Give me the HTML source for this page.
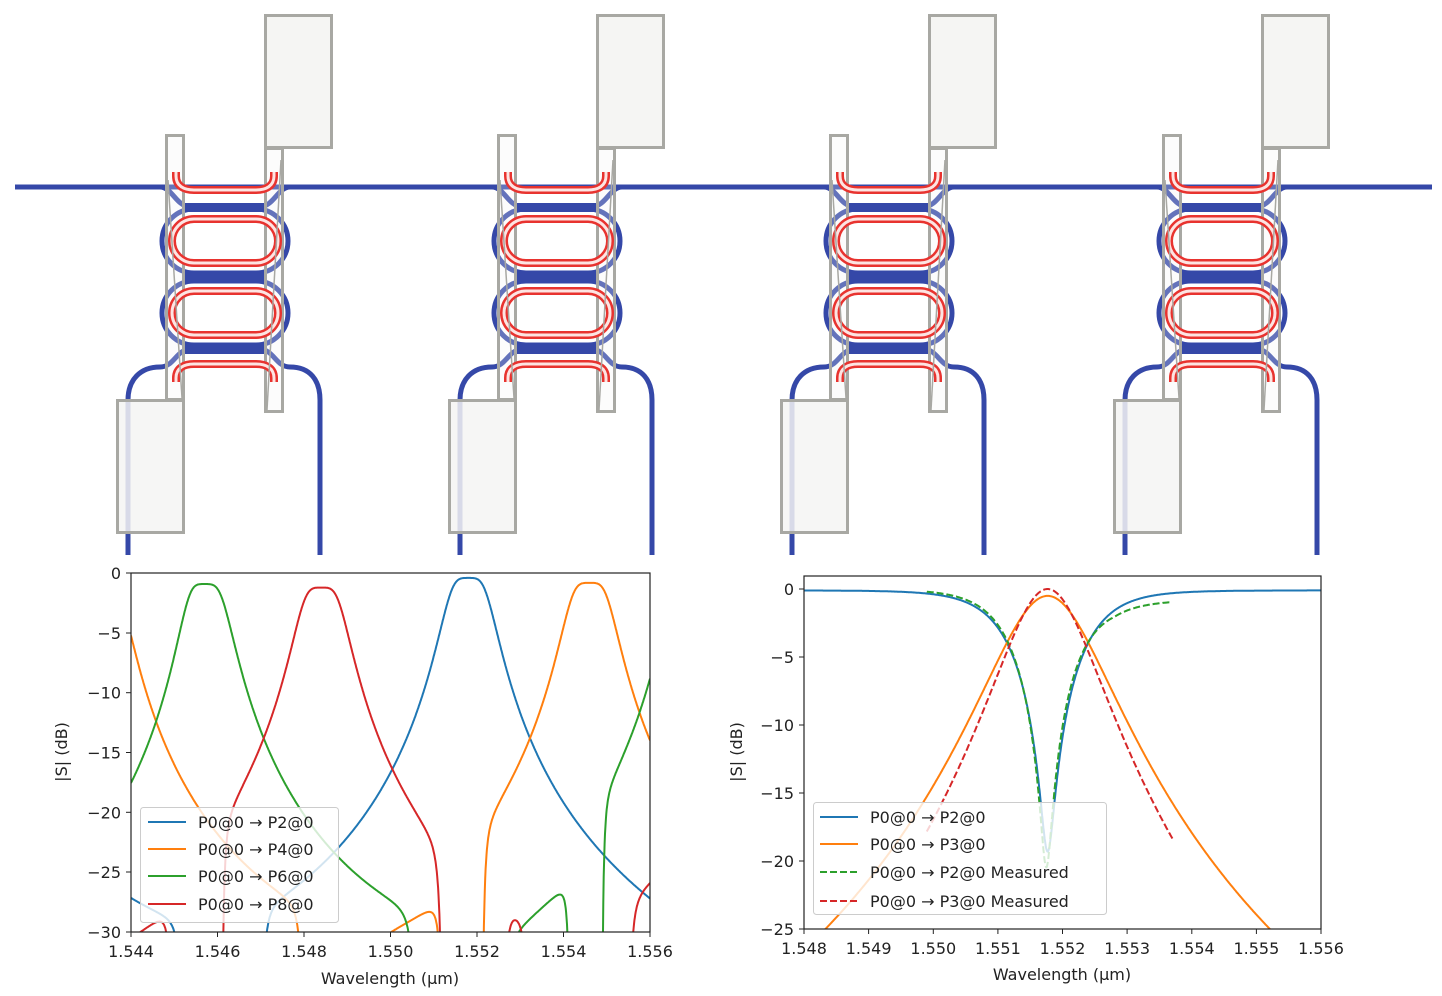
<!DOCTYPE html>
<html><head><meta charset="utf-8"><style>
html,body{margin:0;padding:0;background:#fff;}
svg{display:block;font-family:"DejaVu Sans","Liberation Sans",sans-serif;}
.t{font-size:16px;fill:#222;}
</style></head><body>
<svg id="s" width="1442" height="996" viewBox="0 0 1442 996" xmlns="http://www.w3.org/2000/svg">
<defs>
<g id="unit">
  <rect x="162" y="209" width="126" height="64" rx="32" fill="none" stroke="#3548a8" stroke-width="5"/>
  <rect x="162" y="281" width="126" height="64" rx="32" fill="none" stroke="#3548a8" stroke-width="5"/>
  <rect x="183" y="203" width="84" height="9" fill="#3548a8"/>
  <rect x="183" y="272" width="84" height="10" fill="#3548a8"/>
  <rect x="183" y="344" width="84" height="10" fill="#3548a8"/>
  <path d="M160 187 C172 187 176 206 190 207 M260 207 C274 206 278 187 290 187" fill="none" stroke="#3548a8" stroke-width="5"/>
  <path d="M190 349 C176 350 174 367 160 367 C140 367 128 380 128 400 L128 555" fill="none" stroke="#3548a8" stroke-width="5"/>
  <path d="M260 349 C274 350 276 367 290 367 C310 367 320 380 320 400 L320 555" fill="none" stroke="#3548a8" stroke-width="5"/>
  <g stroke="#a8a8a3" stroke-width="3">
    <rect x="166.5" y="135.5" width="17" height="264" fill="#f4f4f2" fill-opacity="0.25"/>
    <rect x="265.5" y="148.5" width="17" height="263" fill="#f4f4f2" fill-opacity="0.25"/>
    <rect x="265.5" y="15.5" width="66" height="132" fill="#f5f5f3"/>
    <rect x="117.5" y="400.5" width="66" height="132" fill="#f5f5f3" fill-opacity="0.85"/>
  </g>
  <g fill="none" stroke-linecap="butt">
    <g stroke="#e8332f" stroke-width="8">
      <path d="M176 172 L176 176 C176 186 184 190 194 190 L256 190 C266 190 274 186 274 176 L274 172"/>
      <rect x="172" y="219" width="106" height="44" rx="22"/>
      <rect x="172" y="291" width="106" height="44" rx="22"/>
      <path d="M176 382 L176 378 C176 368 184 364 194 364 L256 364 C266 364 274 368 274 378 L274 382"/>
    </g>
    <g stroke="#fde4e2" stroke-width="3">
      <path d="M176 172 L176 176 C176 186 184 190 194 190 L256 190 C266 190 274 186 274 176 L274 172"/>
      <rect x="172" y="219" width="106" height="44" rx="22"/>
      <rect x="172" y="291" width="106" height="44" rx="22"/>
      <path d="M176 382 L176 378 C176 368 184 364 194 364 L256 364 C266 364 274 368 274 378 L274 382"/>
    </g>
  </g>
  <g stroke="#a8a8a3" stroke-width="1.5" fill="none">
    <line x1="168" y1="180" x2="182" y2="398"/>
    <line x1="281" y1="160" x2="267" y2="410"/>
  </g>
</g>
<clipPath id="cl"><rect x="131" y="573" width="519" height="359"/></clipPath>
<clipPath id="cr"><rect x="804" y="576" width="517" height="353"/></clipPath>
</defs>

<line x1="15" y1="187" x2="1432" y2="187" stroke="#3548a8" stroke-width="5"/>
<use href="#unit"/>
<use href="#unit" x="332"/>
<use href="#unit" x="664"/>
<use href="#unit" x="997"/>

<g id="leftcurves" clip-path="url(#cl)" fill="none" stroke-width="2"></g>
<rect x="131" y="573" width="519" height="359" fill="none" stroke="#222" stroke-width="1.2"/>
<g stroke="#222" stroke-width="1">
<line x1="131" y1="932" x2="131" y2="937"/><line x1="217.5" y1="932" x2="217.5" y2="937"/><line x1="304" y1="932" x2="304" y2="937"/><line x1="390.5" y1="932" x2="390.5" y2="937"/><line x1="477" y1="932" x2="477" y2="937"/><line x1="563.5" y1="932" x2="563.5" y2="937"/><line x1="650" y1="932" x2="650" y2="937"/>
<line x1="126" y1="573" x2="131" y2="573"/><line x1="126" y1="633" x2="131" y2="633"/><line x1="126" y1="692.7" x2="131" y2="692.7"/><line x1="126" y1="752.5" x2="131" y2="752.5"/><line x1="126" y1="812.3" x2="131" y2="812.3"/><line x1="126" y1="872" x2="131" y2="872"/><line x1="126" y1="932" x2="131" y2="932"/>
</g>
<g class="t" text-anchor="middle">
<text x="131" y="957">1.544</text><text x="217.5" y="957">1.546</text><text x="304" y="957">1.548</text><text x="390.5" y="957">1.550</text><text x="477" y="957">1.552</text><text x="563.5" y="957">1.554</text><text x="650" y="957">1.556</text>
<text x="390" y="984">Wavelength (µm)</text>
</g>
<g class="t" text-anchor="end">
<text x="121" y="579">0</text><text x="121" y="639">−5</text><text x="121" y="698.7">−10</text><text x="121" y="758.5">−15</text><text x="121" y="818.3">−20</text><text x="121" y="878">−25</text><text x="121" y="938">−30</text>
</g>
<text class="t" transform="translate(67,752) rotate(-90)" text-anchor="middle">|S| (dB)</text>
<rect x="140.5" y="807.5" width="198" height="115" rx="3" fill="#fff" fill-opacity="0.8" stroke="#ccc"/>
<g stroke-width="2">
<line x1="148" y1="822" x2="186" y2="822" stroke="#1f77b4"/>
<line x1="148" y1="849" x2="186" y2="849" stroke="#ff7f0e"/>
<line x1="148" y1="876" x2="186" y2="876" stroke="#2ca02c"/>
<line x1="148" y1="904" x2="186" y2="904" stroke="#d62728"/>
</g>
<g class="t">
<text x="198" y="828">P0@0 → P2@0</text><text x="198" y="855">P0@0 → P4@0</text><text x="198" y="882">P0@0 → P6@0</text><text x="198" y="910">P0@0 → P8@0</text>
</g>

<g id="rightcurves" clip-path="url(#cr)" fill="none" stroke-width="2"></g>
<rect x="804" y="576" width="517" height="353" fill="none" stroke="#222" stroke-width="1.2"/>
<g stroke="#222" stroke-width="1">
<line x1="804" y1="929" x2="804" y2="934"/><line x1="868.6" y1="929" x2="868.6" y2="934"/><line x1="933.3" y1="929" x2="933.3" y2="934"/><line x1="997.9" y1="929" x2="997.9" y2="934"/><line x1="1062.5" y1="929" x2="1062.5" y2="934"/><line x1="1127.1" y1="929" x2="1127.1" y2="934"/><line x1="1191.8" y1="929" x2="1191.8" y2="934"/><line x1="1256.4" y1="929" x2="1256.4" y2="934"/><line x1="1321" y1="929" x2="1321" y2="934"/>
<line x1="799" y1="589" x2="804" y2="589"/><line x1="799" y1="657" x2="804" y2="657"/><line x1="799" y1="725" x2="804" y2="725"/><line x1="799" y1="793" x2="804" y2="793"/><line x1="799" y1="861" x2="804" y2="861"/><line x1="799" y1="929" x2="804" y2="929"/>
</g>
<g class="t" text-anchor="middle">
<text x="804" y="954">1.548</text><text x="868.6" y="954">1.549</text><text x="933.3" y="954">1.550</text><text x="997.9" y="954">1.551</text><text x="1062.5" y="954">1.552</text><text x="1127.1" y="954">1.553</text><text x="1191.8" y="954">1.554</text><text x="1256.4" y="954">1.555</text><text x="1321" y="954">1.556</text>
<text x="1062" y="980">Wavelength (µm)</text>
</g>
<g class="t" text-anchor="end">
<text x="794" y="595">0</text><text x="794" y="663">−5</text><text x="794" y="731">−10</text><text x="794" y="799">−15</text><text x="794" y="867">−20</text><text x="794" y="935">−25</text>
</g>
<text class="t" transform="translate(742,752) rotate(-90)" text-anchor="middle">|S| (dB)</text>
<rect x="813.5" y="802.5" width="293" height="112" rx="3" fill="#fff" fill-opacity="0.8" stroke="#ccc"/>
<g stroke-width="2">
<line x1="820" y1="817" x2="858" y2="817" stroke="#1f77b4"/>
<line x1="820" y1="844" x2="858" y2="844" stroke="#ff7f0e"/>
<line x1="820" y1="872" x2="858" y2="872" stroke="#2ca02c" stroke-dasharray="7,3"/>
<line x1="820" y1="901" x2="858" y2="901" stroke="#d62728" stroke-dasharray="7,3"/>
</g>
<g class="t">
<text x="870" y="823">P0@0 → P2@0</text><text x="870" y="850">P0@0 → P3@0</text><text x="870" y="878">P0@0  → P2@0 Measured</text><text x="870" y="907">P0@0  → P3@0 Measured</text>
</g>
</svg>
<script>
(function(){
var NS="http://www.w3.org/2000/svg";
function db(v){return 10*Math.log10(Math.max(v,1e-12));}
function mk(g,pts,col,dash){var p=document.createElementNS(NS,"path");var d="";for(var i=0;i<pts.length;i++){d+=(i?"L":"M")+pts[i][0].toFixed(1)+" "+pts[i][1].toFixed(1);}p.setAttribute("d",d);p.setAttribute("stroke",col);if(dash)p.setAttribute("stroke-dasharray",dash);g.appendChild(p);}
var gl=document.getElementById("leftcurves");
function lx(l){return 131+(l-1544)*43.25;}function ly(v){return 573-v*11.967;}
function pk(l,c,a,w){var x=(l-c)/(w||0.49);return a/Math.pow(1+x*x*x*x,0.72);}
function n2(l,z,s){var d=(l-z)*(l-z);return d/(d+s*s);}
function gap(l,a,b,s){if(l>a&&l<b)return 1e-6;return n2(l,a,s)*n2(l,b,s);}
var F={
"#1f77b4":function(l){return (pk(l,1551.8,0.91)+pk(l,1539.6,0.91))*gap(l,1545.2,1547.0,0.12);},
"#ff7f0e":function(l){return (pk(l,1554.6,0.83)+pk(l,1543.35,0.83))*gap(l,1548.0,1549.5,0.12)*gap(l,1551.2,1552.12,0.1)*(l<1551.2&&l>1549.5?0.6:1);},
"#2ca02c":function(l){return (pk(l,1545.7,0.81,l<1545.7?0.45:0.49)+pk(l,1556.9,0.81))*gap(l,1550.6,1552.6,0.15)*gap(l,1554.15,1554.89,0.08)*(l>1552.6&&l<1554.15?0.5:1);},
"#d62728":function(l){return (pk(l,1548.4,0.76)+pk(l,1537.0,0.2)+pk(l,1559.6,0.76))*gap(l,1544.95,1546.1,0.1)*gap(l,1551.2,1552.6,0.12)*gap(l,1553.2,1555.5,0.12)*(l<1545?0.6:1);}
};
for(var c in F){var pts=[];for(var l=1544;l<=1556.001;l+=0.01){var v=db(F[c](l));if(v<-32)v=-32;pts.push([lx(l),ly(v)]);}mk(gl,pts,c);}
var gr=document.getElementById("rightcurves");
function rx(l){return 804+(l-1548)*64.625;}function ry(v){return 589-v*13.6;}
function drop(l,c,w,a,e){var x=(l-c)/w;return a/Math.pow(1+x*x,e);}
function thr(l,c,w,a){var x=(l-c)/w;return 1-a/Math.pow(1+x*x,3);}
var pts=[];for(var l=1548;l<=1556.001;l+=0.005){pts.push([rx(l),ry(db(thr(l,1551.77,1.45,0.988))-0.1)]);}mk(gr,pts,"#1f77b4");
pts=[];for(var l=1548;l<=1556.001;l+=0.01){pts.push([rx(l),ry(db(drop(l,1551.77,0.93,0.89,2.1)))]);}mk(gr,pts,"#ff7f0e");
pts=[];for(var l=1549.9;l<=1553.7;l+=0.005){var v=db(thr(l,1551.75,1.38,0.991));if(l>1551.8)v-=0.8*Math.min(1,(l-1551.8)/1.0);pts.push([rx(l),ry(v)]);}mk(gr,pts,"#2ca02c","7,3");
pts=[];for(var l=1549.9;l<=1553.7;l+=0.01){pts.push([rx(l),ry(db(drop(l,1551.77,0.8,1.0,2.2)))]);}mk(gr,pts,"#d62728","7,3");
})();
</script>
</body></html>
